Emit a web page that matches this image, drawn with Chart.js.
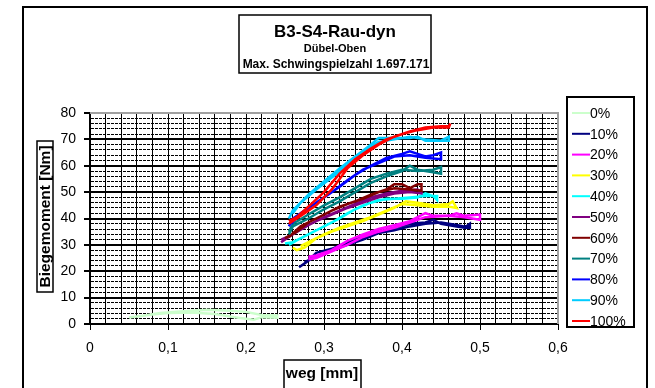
<!DOCTYPE html>
<html>
<head>
<meta charset="utf-8">
<script src="https://cdn.jsdelivr.net/npm/chart.js@4.4.1/dist/chart.umd.min.js"></script>
<style>
html, body { margin: 0; padding: 0; background: #fff; }
#wrap { width: 655px; height: 388px; }
</style>
</head>
<body>
<div id="wrap"><canvas id="chart" width="655" height="388"></canvas></div>
<script>
// Titel und Achsen
const titleLines = ['B3-S4-Rau-dyn', 'Dübel-Oben', 'Max. Schwingspielzahl 1.697.171'];
const xTitle = 'weg [mm]';
const yTitle = 'Biegemoment [Nm]';

// Serien (weg in mm, Biegemoment in Nm)
const seriesNames = ['0%', '10%', '20%', '30%', '40%', '50%', '60%', '70%', '80%', '90%', '100%'];

const weg0 = [0.05, 0.07, 0.09, 0.12, 0.15, 0.18, 0.20, 0.22, 0.24, 0.24, 0.22, 0.21, 0.19, 0.16, 0.13, 0.10, 0.08, 0.06, 0.05];
const mom0 = [2.5, 3.2, 4.2, 4.8, 5.4, 5.0, 4.6, 3.4, 3.2, 2.4, 2.6, 1.6, 2.4, 3.8, 4.4, 4.2, 3.6, 2.8, 2.5];

const weg10 = [0.268, 0.28, 0.29, 0.31, 0.33, 0.35, 0.37, 0.39, 0.41, 0.43, 0.44, 0.45, 0.47, 0.48, 0.487, 0.487, 0.47, 0.45, 0.43, 0.41, 0.39, 0.37, 0.35, 0.33, 0.31, 0.29, 0.275];
const mom10 = [21.5, 24, 27, 28.5, 31, 33, 34.5, 36.5, 38, 38.5, 39.5, 38, 37, 36.5, 38, 36.5, 37.5, 38.5, 38, 37, 35.5, 34.5, 32, 30, 28, 25.5, 23.5];

const weg20 = [0.28, 0.29, 0.31, 0.33, 0.35, 0.37, 0.39, 0.41, 0.43, 0.44, 0.46, 0.47, 0.48, 0.50, 0.50, 0.48, 0.46, 0.43, 0.41, 0.39, 0.37, 0.35, 0.33, 0.31, 0.29, 0.28];
const mom20 = [25.5, 26, 28, 31.5, 34, 36, 37.5, 39, 42, 41, 41, 42, 41, 41.5, 39.5, 40.5, 41, 40.5, 38.5, 36.5, 35, 33, 30, 27.5, 25, 24.5];

const weg30 = [0.26, 0.265, 0.275, 0.29, 0.31, 0.33, 0.35, 0.37, 0.39, 0.405, 0.42, 0.44, 0.46, 0.465, 0.47, 0.46, 0.44, 0.42, 0.40, 0.38, 0.36, 0.34, 0.32, 0.30, 0.28, 0.27];
const mom30 = [29, 28, 29, 32.5, 35, 37, 39, 41.5, 44, 46.5, 46, 45, 45.5, 46.5, 44, 44.5, 44.5, 45, 45.5, 43, 40.5, 38.5, 36.5, 34, 31, 29.5];

const weg40 = [0.25, 0.26, 0.28, 0.30, 0.32, 0.34, 0.36, 0.38, 0.40, 0.42, 0.43, 0.44, 0.445, 0.445, 0.43, 0.41, 0.39, 0.37, 0.35, 0.33, 0.31, 0.29, 0.27, 0.255];
const mom40 = [30.5, 31, 34, 37, 40, 43.5, 46, 47.5, 47.5, 48, 49.5, 48.5, 47, 48.5, 48.5, 48, 47.5, 47, 45, 42, 38.5, 35.5, 32.5, 30];

const weg50 = [0.245, 0.26, 0.28, 0.30, 0.32, 0.34, 0.36, 0.38, 0.40, 0.42, 0.425, 0.425, 0.41, 0.39, 0.37, 0.35, 0.33, 0.31, 0.29, 0.27, 0.255, 0.245];
const mom50 = [32, 34, 37.5, 40.5, 43, 45.5, 48, 49.5, 50.5, 51, 50, 49.5, 50, 49.5, 48, 46, 44, 41.5, 39, 36, 33, 31];

const weg60 = [0.25, 0.265, 0.28, 0.30, 0.32, 0.34, 0.36, 0.38, 0.39, 0.40, 0.41, 0.42, 0.425, 0.425, 0.41, 0.39, 0.37, 0.35, 0.33, 0.31, 0.29, 0.27, 0.255];
const mom60 = [32.5, 35, 38.5, 41.5, 44.5, 46.5, 49, 51, 53, 53, 51.5, 53, 53, 50.5, 51, 51.5, 50, 47.5, 45.5, 43, 40, 37, 33];

const weg70 = [0.255, 0.26, 0.28, 0.30, 0.32, 0.34, 0.36, 0.38, 0.40, 0.41, 0.42, 0.44, 0.45, 0.45, 0.44, 0.42, 0.40, 0.38, 0.36, 0.34, 0.32, 0.30, 0.28, 0.26, 0.255];
const mom70 = [34, 37, 40, 43.5, 46.5, 50, 53.5, 56, 58, 60, 58.5, 57.5, 57, 59.5, 58.5, 58, 58.5, 57, 55, 51.5, 48, 45, 41.5, 38, 35];

const weg80 = [0.255, 0.26, 0.28, 0.30, 0.32, 0.34, 0.36, 0.38, 0.40, 0.41, 0.42, 0.43, 0.44, 0.45, 0.45, 0.43, 0.41, 0.39, 0.37, 0.35, 0.33, 0.31, 0.29, 0.27, 0.258];
const mom80 = [37, 40, 44, 48, 52, 56.5, 60, 63, 64.5, 65.5, 64.5, 63.5, 64, 65, 62.5, 63, 64, 63.5, 61, 58.5, 54.5, 50, 46, 42, 38];

const weg90 = [0.255, 0.26, 0.28, 0.30, 0.32, 0.34, 0.36, 0.37, 0.39, 0.41, 0.42, 0.43, 0.44, 0.46, 0.46, 0.45, 0.43, 0.41, 0.39, 0.37, 0.35, 0.33, 0.31, 0.29, 0.27, 0.26];
const mom90 = [40, 43, 49, 54, 59, 63.5, 68, 70.5, 70.5, 70.5, 71, 69.5, 69.5, 69.5, 71, 69.5, 70, 71, 70, 69, 65, 60, 55.5, 51, 46, 42];

const weg100 = [0.255, 0.27, 0.29, 0.31, 0.32, 0.33, 0.35, 0.37, 0.39, 0.41, 0.43, 0.45, 0.46, 0.462, 0.46, 0.44, 0.42, 0.40, 0.38, 0.36, 0.34, 0.32, 0.30, 0.28, 0.265, 0.255];
const mom100 = [38, 41, 45, 51, 55, 59, 64, 68, 71, 73, 74.5, 75, 75, 76, 74.5, 74.5, 73.5, 72, 70, 66.5, 62.5, 57, 50, 44.5, 40.5, 39];

const wegSeries = [weg0, weg10, weg20, weg30, weg40, weg50, weg60, weg70, weg80, weg90, weg100];
const momSeries = [mom0, mom10, mom20, mom30, mom40, mom50, mom60, mom70, mom80, mom90, mom100];

const colors = ['#ccffcc', '#000080', '#ff00ff', '#ffff00', '#00ffff', '#800080', '#800000', '#008080', '#0000ff', '#00ccff', '#ff0000'];

const FONT = "'Liberation Sans', Arial, sans-serif";

const datasets = seriesNames.map((name, i) => ({
    label: name,
    data: wegSeries[i].map((x, k) => ({ x: x, y: momSeries[i][k] })),
    borderColor: colors[i],
    backgroundColor: colors[i],
    borderWidth: 2.5,
    pointRadius: 0,
    showLine: true,
    tension: 0,
    order: seriesNames.length - i // 100% oben
}));

// Rahmen, Titel, Achsentitel und Legende (wie im Excel-Diagramm)
const decoPlugin = {
    id: 'deco',
    afterDraw(chart) {
        const c = chart.ctx;
        const area = chart.chartArea;
        c.save();

        // Rand des Plotbereichs (grau)
        c.strokeStyle = '#a0a0a0';
        c.lineWidth = 2;
        c.beginPath();
        c.moveTo(area.left, area.top);
        c.lineTo(area.right, area.top);
        c.lineTo(area.right, area.bottom);
        c.stroke();

        // äußerer Rahmen
        c.strokeStyle = '#000';
        c.lineWidth = 2;
        c.strokeRect(23, 7, 624, 400);

        // Titelbox
        c.lineWidth = 1.5;
        c.strokeRect(239, 15, 192, 58);
        c.fillStyle = '#000';
        c.textAlign = 'center';
        c.textBaseline = 'middle';
        c.font = 'bold 17px ' + FONT;
        c.fillText(titleLines[0], 335, 32);
        c.font = 'bold 11px ' + FONT;
        c.fillText(titleLines[1], 335, 49);
        c.font = 'bold 12px ' + FONT;
        c.fillText(titleLines[2], 336, 65);

        // x-Achsentitel
        c.strokeRect(284, 360, 77, 32);
        c.font = 'bold 15.5px ' + FONT;
        c.fillText(xTitle, 322, 374);

        // y-Achsentitel
        c.strokeRect(37, 141, 16, 151);
        c.save();
        c.translate(45, 216.5);
        c.rotate(-Math.PI / 2);
        c.font = 'bold 15.5px ' + FONT;
        c.fillText(yTitle, 0, 1);
        c.restore();

        // Legende
        c.lineWidth = 2;
        c.strokeRect(567, 97, 67, 230);
        c.font = '14px ' + FONT;
        c.textAlign = 'left';
        chart.data.datasets.forEach((ds, i) => {
            const y = 113 + i * 20.8;
            c.strokeStyle = ds.borderColor;
            c.lineWidth = 2;
            c.beginPath();
            c.moveTo(572, y);
            c.lineTo(590, y);
            c.stroke();
            c.fillStyle = '#000';
            c.fillText(ds.label, 590, y + 1);
        });

        c.restore();
    }
};

const isMajorY = (ctx) => ctx.tick && Math.round(ctx.tick.value) % 10 === 0;
const isMajorX = (ctx) => ctx.tick && Math.round(ctx.tick.value * 100) % 10 === 0;

const ctx = document.getElementById('chart').getContext('2d');
const chart = new Chart(ctx, {
    type: 'scatter',
    data: { datasets: datasets },
    options: {
        responsive: false,
        animation: false,
        devicePixelRatio: 1,
        layout: { padding: { left: 30, right: 97, top: 113, bottom: 24 } },
        plugins: {
            legend: { display: false },
            tooltip: { enabled: false }
        },
        scales: {
            x: {
                type: 'linear',
                min: 0,
                max: 0.6,
                afterFit: (scale) => { scale.height = 40; },
                ticks: {
                    stepSize: 0.02,
                    autoSkip: false,
                    maxRotation: 0,
                    padding: 10,
                    color: '#000',
                    font: { family: FONT, size: 14 },
                    callback: function (value) {
                        const v = Math.round(value * 100);
                        if (v % 10 !== 0) return '';
                        return v === 0 ? '0' : (v / 100).toFixed(1).replace('.', ',');
                    }
                },
                grid: {
                    color: '#000',
                    lineWidth: 1,
                    tickLength: 6,
                    tickColor: (c) => isMajorX(c) ? '#000' : 'rgba(0,0,0,0)'
                },
                border: { color: '#000', width: 2 }
            },
            y: {
                type: 'linear',
                min: 0,
                max: 80,
                afterFit: (scale) => { scale.width = 60; },
                ticks: {
                    stepSize: 2,
                    autoSkip: false,
                    padding: 8,
                    color: '#000',
                    font: { family: FONT, size: 14 },
                    callback: (value) => (Math.round(value) % 10 === 0 ? String(value) : '')
                },
                grid: {
                    color: '#000',
                    lineWidth: (c) => isMajorY(c) ? 2 : 1,
                    tickLength: 6,
                    tickColor: (c) => isMajorY(c) ? '#000' : 'rgba(0,0,0,0)'
                },
                border: {
                    color: '#000',
                    width: 2,
                    dash: (c) => (c.tick && !isMajorY(c)) ? [3, 1] : []
                }
            }
        }
    },
    plugins: [decoPlugin]
});
</script>
</body>
</html>
